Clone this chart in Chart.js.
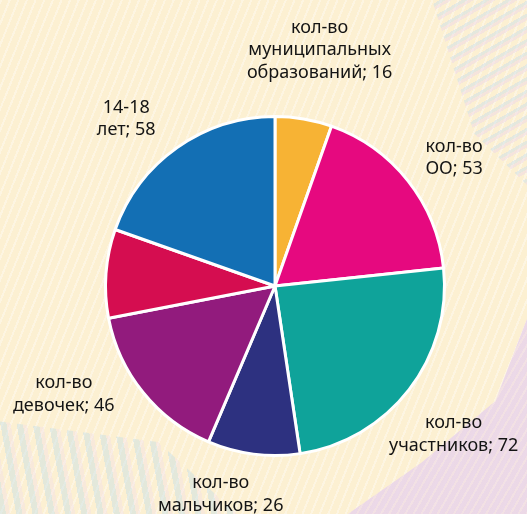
<!DOCTYPE html>
<html>
<head>
<meta charset="utf-8">
<script src="https://cdn.jsdelivr.net/npm/chart.js@4.4.0/dist/chart.umd.min.js"></script>
<style>
  html, body { margin: 0; padding: 0; }
  body { width: 527px; height: 514px; overflow: hidden; position: relative; background: #fcf0d2; }
  .bg { position: absolute; inset: 0; }
  #stripes { background: repeating-linear-gradient(112deg, rgba(255,255,255,0.35) 0 2px, rgba(255,255,255,0) 2px 8px); }
  #lilac { background: repeating-linear-gradient(120deg, #ead6e9 0 5px, #f1dfe6 5px 7px); clip-path: polygon(100% 62%, 100% 100%, 66% 100%, 80% 90%, 94% 78%); opacity: 0.9; }
  #blueL { background: repeating-linear-gradient(80deg, rgba(190,220,232,0.4) 0 6px, rgba(240,220,235,0.35) 6px 10px, rgba(255,255,255,0) 10px 16px); clip-path: polygon(0 82%, 30% 86%, 45% 100%, 0 100%); }
  #topR { background: repeating-linear-gradient(150deg, rgba(200,222,236,0.45) 0 3px, rgba(236,214,234,0.45) 3px 6px, rgba(255,255,255,0) 6px 11px); clip-path: polygon(82% 0, 100% 0, 100% 36%, 90% 26%); }
  canvas { position: absolute; left: 0; top: 0; }
</style>
</head>
<body>
<div class="bg" id="stripes"></div>
<div class="bg" id="topR"></div>
<div class="bg" id="lilac"></div>
<div class="bg" id="blueL"></div>
<canvas id="c" width="527" height="514"></canvas>
<script>
// ---- data ----
const categories = [
  'кол-во\nмуниципальных\nобразований',
  'кол-во\nОО',
  'кол-во\nучастников',
  'кол-во\nмальчиков',
  'кол-во\nдевочек',
  '',
  '14-18\nлет'
];
const values = [16, 53, 72, 26, 46, 25, 58];
const showLabel = [true, true, true, true, true, false, true];

// ---- styles / layout ----
const colors = ['#F7B334', '#E6097F', '#0FA39A', '#2D3180', '#921B7D', '#D50D50', '#136FB4'];
const labelAngleNudge = [1, 2.7, 2, 7.3, 11.8, 0, -6.4];   // degrees
const labelDist = [1.415, 1.30, 1.37, 1.27, 1.40, 1.3, 1.32]; // x outer radius

const labelPlugin = {
  id: 'outLabels',
  afterDatasetsDraw(chart) {
    const ctx = chart.ctx;
    const meta = chart.getDatasetMeta(0);
    ctx.save();
    ctx.font = '18px "Noto Sans", "Open Sans", sans-serif';
    ctx.fillStyle = '#141414';
    ctx.textAlign = 'center';
    ctx.textBaseline = 'middle';
    const lh = 22.5;
    meta.data.forEach((arc, i) => {
      if (!showLabel[i]) return;
      const p = arc.getProps(['x', 'y', 'startAngle', 'endAngle', 'outerRadius'], true);
      const a = (p.startAngle + p.endAngle) / 2 + labelAngleNudge[i] * Math.PI / 180;
      const d = p.outerRadius * labelDist[i];
      const cx = p.x + Math.cos(a) * d;
      const cy = p.y + Math.sin(a) * d;
      const lines = (chart.data.labels[i] + '; ' + values[i]).split('\n');
      const y0 = cy - (lines.length - 1) * lh / 2;
      lines.forEach((ln, k) => ctx.fillText(ln, cx, y0 + k * lh));
    });
    ctx.restore();
  }
};

new Chart(document.getElementById('c'), {
  type: 'pie',
  data: {
    labels: categories,
    datasets: [{
      data: values,
      backgroundColor: colors,
      borderColor: '#ffffff',
      borderWidth: 3
    }]
  },
  options: {
    responsive: false,
    animation: false,
    layout: { padding: { left: 104, right: 81, top: 115, bottom: 57 } },
    plugins: { legend: { display: false }, tooltip: { enabled: false } }
  },
  plugins: [labelPlugin]
});
</script>
</body>
</html>
